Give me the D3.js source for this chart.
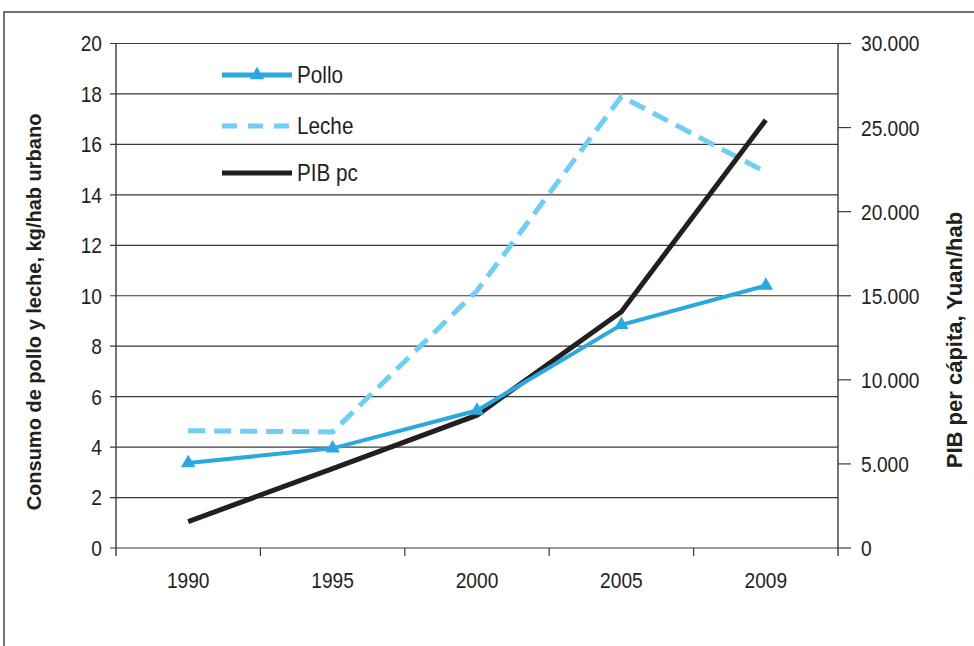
<!DOCTYPE html>
<html>
<head>
<meta charset="utf-8">
<script src="https://cdn.jsdelivr.net/npm/d3@7"></script>
<style>
  html, body { margin: 0; padding: 0; background: #fff; }
  svg text { font-family: "Liberation Sans Narrow", "Arial Narrow", "Liberation Sans", Arial, sans-serif; fill: #231f20; }
</style>
</head>
<body>
<svg id="chart" width="974" height="646"></svg>
<script>
const years = ["1990", "1995", "2000", "2005", "2009"];
const pollo = [3.37, 3.95, 5.45, 8.85, 10.4];
const leche = [4.65, 4.6, 10.2, 17.9, 14.9];
const pibpc = [1570, 4720, 7900, 14050, 25450];
const leftTicks = [0, 2, 4, 6, 8, 10, 12, 14, 16, 18, 20];
const rightTicks = [0, 5000, 10000, 15000, 20000, 25000, 30000];
const seriesNames = ["Pollo", "Leche", "PIB pc"];

const svg = d3.select("#chart");
const W = 974, H = 646;
const L = 116, R = 838, T = 43.5, B = 548;
const SX = 0.87; // horizontal condensing of tick text

const colPollo = "#2ba8e0", colLeche = "#6dcff6", colPib = "#231f20", colGrid = "#3a3a3a";

// frame
svg.append("rect").attr("x", 4).attr("y", 12).attr("width", W).attr("height", H)
  .attr("fill", "none").attr("stroke", "#444").attr("stroke-width", 1.5);

const x = d3.scaleBand().domain(years).range([L, R]);
const xc = d => x(d) + x.bandwidth() / 2;
const y = d3.scaleLinear().domain([0, 20]).range([B, T]);
const y2 = d3.scaleLinear().domain([0, 30000]).range([B, T]);

// gridlines
svg.append("g").selectAll("line").data(leftTicks).join("line")
  .attr("x1", L - 6).attr("x2", R).attr("y1", d => y(d)).attr("y2", d => y(d))
  .attr("stroke", colGrid).attr("stroke-width", 1.2);

// axis lines
svg.append("line").attr("x1", L).attr("x2", L).attr("y1", T).attr("y2", B + 8)
  .attr("stroke", colGrid).attr("stroke-width", 1.4);
svg.append("line").attr("x1", R).attr("x2", R).attr("y1", T).attr("y2", B + 8)
  .attr("stroke", colGrid).attr("stroke-width", 1.4);

// left tick labels
svg.append("g").selectAll("text").data(leftTicks).join("text")
  .attr("transform", d => `translate(102,${y(d)}) scale(${SX},1)`).attr("dy", "0.36em")
  .attr("text-anchor", "end").attr("font-size", 22).text(d => d);

// right ticks
svg.append("g").selectAll("line").data(rightTicks).join("line")
  .attr("x1", R).attr("x2", R + 13).attr("y1", d => y2(d)).attr("y2", d => y2(d))
  .attr("stroke", colGrid).attr("stroke-width", 1.2);
const fmt = d => d === 0 ? "0" : d3.format(",")(d).replace(/,/g, ".");
svg.append("g").selectAll("text").data(rightTicks).join("text")
  .attr("transform", d => `translate(861,${y2(d)}) scale(${SX},1)`).attr("dy", "0.36em")
  .attr("text-anchor", "start").attr("font-size", 22).text(fmt);

// x ticks at band boundaries
const bounds = years.slice(1).map(d => x(d));
svg.append("g").selectAll("line").data(bounds).join("line")
  .attr("x1", d => d).attr("x2", d => d).attr("y1", B).attr("y2", B + 8)
  .attr("stroke", colGrid).attr("stroke-width", 1.2);
svg.append("g").selectAll("text").data(years).join("text")
  .attr("transform", d => `translate(${xc(d)},580) scale(${SX},1)`).attr("dy", "0.36em")
  .attr("text-anchor", "middle").attr("font-size", 22).text(d => d);

// axis titles
svg.append("text").attr("transform", `translate(41,312) rotate(-90)`)
  .attr("text-anchor", "middle").attr("font-size", 20).attr("font-weight", "bold")
  .text("Consumo de pollo y leche, kg/hab urbano");
svg.append("text").attr("transform", `translate(962,340) rotate(-90)`)
  .attr("text-anchor", "middle").attr("font-size", 22).attr("font-weight", "bold")
  .text("PIB per cápita, Yuan/hab");

// lines
const lineL = d3.line().x((d, i) => xc(years[i])).y(d => y(d));
const lineR = d3.line().x((d, i) => xc(years[i])).y(d => y2(d));

svg.append("path").datum(leche).attr("d", lineL).attr("fill", "none")
  .attr("stroke", colLeche).attr("stroke-width", 5).attr("stroke-dasharray", "17,9");
svg.append("path").datum(pibpc).attr("d", lineR).attr("fill", "none")
  .attr("stroke", colPib).attr("stroke-width", 5);
svg.append("path").datum(pollo).attr("d", lineL).attr("fill", "none")
  .attr("stroke", colPollo).attr("stroke-width", 4);
const tri = d3.symbol().type(d3.symbolTriangle).size(90);
svg.append("g").selectAll("path").data(pollo).join("path")
  .attr("transform", (d, i) => `translate(${xc(years[i])},${y(d)})`)
  .attr("d", tri).attr("fill", colPollo);

// legend
const legY = [75, 126, 173];
const lg = svg.append("g");
seriesNames.forEach((name, i) => {
  const ln = lg.append("line").attr("x1", 222).attr("x2", 292).attr("y1", legY[i]).attr("y2", legY[i]);
  if (i === 0) ln.attr("stroke", colPollo).attr("stroke-width", 5);
  if (i === 1) ln.attr("stroke", colLeche).attr("stroke-width", 5).attr("stroke-dasharray", "15,11");
  if (i === 2) ln.attr("stroke", colPib).attr("stroke-width", 5);
  lg.append("text").attr("transform", `translate(297,${legY[i]}) scale(0.9,1)`).attr("dy", "0.36em")
    .attr("font-size", 23).text(name);
});
lg.append("path").attr("transform", `translate(257,${legY[0]})`).attr("d", tri).attr("fill", colPollo);
</script>
</body>
</html>
